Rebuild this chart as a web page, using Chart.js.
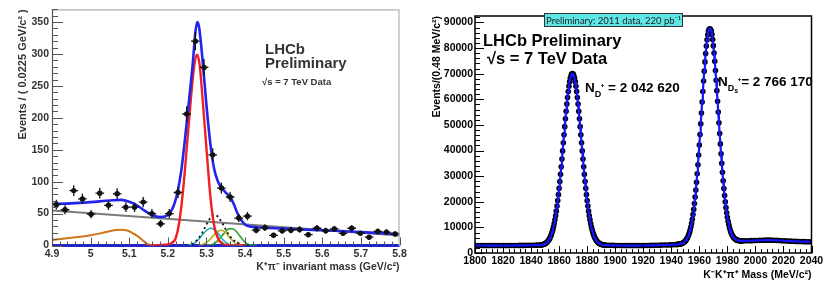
<!DOCTYPE html>
<html>
<head>
<meta charset="utf-8" />
<title>LHCb preliminary mass spectra</title>
<script src="https://cdn.jsdelivr.net/npm/chart.js@4.4.1/dist/chart.umd.min.js"></script>
<style>
    body, html {
        margin: 0;
        padding: 0;
        background: white;
        width: 830px;
        height: 284px;
        overflow: hidden;
    }
    #leftBox { position: absolute; left: 0; top: 0; width: 420px; height: 284px; }
    #rightBox { position: absolute; left: 420px; top: 0; width: 410px; height: 284px; }
</style>
</head>
<body>
<div id="leftBox"><canvas id="leftChart" width="420" height="284"></canvas></div>
<div id="rightBox"><canvas id="rightChart" width="410" height="284"></canvas></div>

<script>
// ---------- left panel: K+pi- invariant mass, bins of 0.0225 GeV ----------
const leftBinLow = 4.9, leftBinWidth = 0.0225;
const leftCounts = [64, 56, 86, 73, 49, 82, 63, 81, 60, 60, 68, 50, 34, 50, 83, 206, 320, 279, 142, 90,
                    76, 43, 46, 24, 28, 16, 23, 24, 25, 17, 27, 23, 26, 19, 27, 19, 13, 22, 21, 18];
const leftErrors = [7.5, 7, 8.5, 8, 6.5, 8.5, 7.5, 8.5, 7.5, 7.5, 8, 7, 5.8, 7, 8.5, 12, 14, 13, 10.5, 8.5,
                    8, 6.3, 6.5, 4.8, 5.2, 4, 4.7, 4.8, 5, 4.1, 5.1, 4.7, 5, 4.3, 5.1, 4.3, 3.6, 4.6, 4.5, 4.2];
const leftXTicks = [4.9, 5.0, 5.1, 5.2, 5.3, 5.4, 5.5, 5.6, 5.7, 5.8];
const leftXLabels = ['4.9', '5', '5.1', '5.2', '5.3', '5.4', '5.5', '5.6', '5.7', '5.8'];
const leftYTicks = [0, 50, 100, 150, 200, 250, 300, 350];

// fit components [mass, events]
const totalFit = [[4.90, 65], [4.95, 66], [5.00, 68], [5.05, 70.5], [5.08, 71.5], [5.10, 68.5], [5.12, 63],
    [5.14, 54.5], [5.16, 47.5], [5.18, 44.5], [5.195, 46], [5.205, 51], [5.215, 62], [5.225, 83], [5.235, 118],
    [5.245, 170], [5.255, 228], [5.265, 288], [5.271, 332], [5.276, 350], [5.281, 342], [5.29, 290], [5.30, 220],
    [5.31, 160], [5.32, 120], [5.33, 100], [5.34, 90], [5.35, 83], [5.36, 77], [5.37, 66], [5.38, 51], [5.39, 40],
    [5.40, 33], [5.41, 30], [5.43, 28.5], [5.45, 27.7], [5.50, 26.6], [5.55, 25], [5.60, 24], [5.65, 22.5],
    [5.70, 21], [5.75, 19.3], [5.80, 17.8]];
const signalFit = [[5.15, 0], [5.20, 1.5], [5.21, 4], [5.22, 11], [5.23, 38], [5.24, 90], [5.25, 160], [5.26, 232],
    [5.268, 280], [5.275, 299], [5.282, 285], [5.29, 230], [5.30, 152], [5.31, 78], [5.32, 31], [5.33, 11],
    [5.34, 3.5], [5.35, 1], [5.40, 0]];
const combBkg = [[4.9, 55], [5.8, 15.5]];
const partReco = [[4.90, 8.5], [4.95, 12], [5.00, 16], [5.04, 21], [5.065, 24.2], [5.08, 24.8], [5.095, 23.5],
    [5.11, 19], [5.12, 15.4], [5.135, 8], [5.15, 1.5], [5.17, 0]];
const peakingSum = [[5.25, 0], [5.26, 1], [5.27, 5], [5.28, 12], [5.29, 21], [5.30, 33], [5.31, 43], [5.32, 48],
    [5.33, 45], [5.34, 36], [5.35, 25], [5.36, 15], [5.37, 8.5], [5.38, 4.5], [5.39, 2], [5.41, 0]];
const peakingA = [[5.25, 0], [5.27, 4], [5.28, 10], [5.29, 17], [5.30, 23.5], [5.31, 27], [5.32, 25], [5.33, 19],
    [5.34, 11], [5.35, 5], [5.36, 1.5], [5.38, 0]];
const peakingB = [[5.28, 0], [5.30, 4.5], [5.31, 10], [5.32, 17], [5.33, 22.5], [5.34, 24], [5.35, 20], [5.36, 13],
    [5.37, 6], [5.38, 2], [5.40, 0]];
const peakingC = [[5.30, 0], [5.32, 3], [5.33, 8], [5.34, 15], [5.35, 22], [5.36, 26.5], [5.37, 26], [5.38, 20],
    [5.39, 12], [5.40, 5], [5.41, 1.5], [5.43, 0]];
const zeroLine = [[4.9, 0], [5.8, 0]];

// ---------- right panel: K-K+pi+ mass ----------
const bgLowCounts = [2950, 2940, 2930, 2920, 2920, 2910, 2900, 2900, 2900, 2900, 2900, 2910, 2920, 2930, 2940,
    2950, 2960, 2970, 2980, 3000, 3020, 3040, 3060];
const dplusCounts = [3080, 3110, 3140, 3180, 3230, 3310, 3400, 3510, 3640, 3820, 4030, 4290, 4590, 4970, 5410,
    5940, 6560, 7290, 8150, 9120, 10240, 11520, 12950, 14550, 16330, 18300, 20440, 22770, 25260, 27920, 30740,
    33670, 36710, 39840, 43010, 46170, 49310, 52380, 55330, 58110, 60690, 63030, 65080, 66800, 68180, 69190,
    69800, 70000, 69800, 69190, 68180, 66800, 65080, 63030, 60690, 58110, 55330, 52380, 49310, 46170, 43010,
    39840, 36710, 33670, 30740, 27920, 25260, 22770, 20440, 18300, 16330, 14550, 12950, 11520, 10240, 9120, 8150,
    7290, 6560, 5940, 5410, 4970, 4590, 4290, 4030, 3820, 3640, 3510, 3400, 3310, 3230, 3180, 3140, 3110, 3080];
const bgMidCounts = [3050, 3010, 2980, 2950, 2930, 2920, 2910, 2900, 2900, 2900, 2900, 2910, 2920, 2930, 2950,
    2970, 2990, 3020, 3050, 3080, 3110, 3150, 3190, 3240, 3300];
const dsCounts = [3340, 3360, 3400, 3440, 3490, 3550, 3630, 3730, 3850, 3980, 4170, 4390, 4670, 5010, 5420,
    5920, 6510, 7230, 8090, 9090, 10270, 11620, 13200, 14980, 17010, 19280, 21820, 24600, 27640, 30940, 34470,
    38210, 42140, 46220, 50410, 54640, 58900, 63060, 67120, 70980, 74590, 77860, 80770, 83210, 85180, 86610,
    87300, 87500, 87330, 86670, 85270, 83330, 80920, 78040, 74800, 71220, 67390, 63360, 59230, 55000, 50800,
    46640, 42590, 38690, 34980, 31480, 28210, 25200, 22450, 19940, 17700, 15700, 13950, 12400, 11080, 9930, 8960,
    8130, 7440, 6880, 6410, 6030, 5720, 5470, 5280, 5120, 5020, 4930, 4860, 4810, 4780, 4760, 4760, 4740, 4750];
const bgHighCounts = [4760, 4790, 4820, 4860, 4900, 4940, 4980, 5010, 5020, 5010, 4980, 4930, 4870, 4800, 4740,
    4680, 4620, 4570, 4530, 4490, 4460, 4430, 4410, 4400];
// [first bin centre, bin step, counts]
const rightSegments = [
    [1800, 2, bgLowCounts],
    [1846, 0.5, dplusCounts],
    [1895, 2, bgMidCounts],
    [1944, 0.5, dsCounts],
    [1993, 2, bgHighCounts]
];
const rightXTicks = [1800, 1820, 1840, 1860, 1880, 1900, 1920, 1940, 1960, 1980, 2000, 2020, 2040];
const rightYTicks = [0, 10000, 20000, 30000, 40000, 50000, 60000, 70000, 80000, 90000];

// ---------- helpers ----------
const FONT = '"Liberation Sans", Arial, Helvetica, sans-serif';
Chart.defaults.font.family = FONT;

const xy = arr => arr.map(p => ({ x: p[0], y: p[1] }));

function curve(data, color, width, extra) {
    return Object.assign({
        data: xy(data), showLine: true, pointRadius: 0, borderColor: color,
        backgroundColor: color, borderWidth: width, cubicInterpolationMode: 'monotone', fill: false
    }, extra || {});
}

// ROOT style ticks pointing into the frame
function innerTicks(chart, t) {
    const ctx = chart.ctx, a = chart.chartArea;
    const xs = chart.scales.x, ys = chart.scales.y;
    ctx.save();
    ctx.strokeStyle = t.color;
    ctx.lineWidth = 1;
    ctx.beginPath();
    const nx = Math.round((xs.max - xs.min) / t.xMinor);
    for (let i = 0; i <= nx; i++) {
        const v = xs.min + i * t.xMinor;
        const major = Math.abs(v / t.xMajor - Math.round(v / t.xMajor)) < 1e-6;
        const px = Math.round(xs.getPixelForValue(v)) + 0.5;
        ctx.moveTo(px, a.bottom);
        ctx.lineTo(px, a.bottom - (major ? t.xMajLen : t.xMinLen));
    }
    const ny = Math.floor((ys.max - ys.min) / t.yMinor + 1e-6);
    for (let i = 0; i <= ny; i++) {
        const v = ys.min + i * t.yMinor;
        const major = Math.abs(v / t.yMajor - Math.round(v / t.yMajor)) < 1e-6;
        const py = Math.round(ys.getPixelForValue(v)) + 0.5;
        ctx.moveTo(a.left, py);
        ctx.lineTo(a.left + (major ? t.yMajLen : t.yMinLen), py);
    }
    ctx.stroke();
    ctx.restore();
}

function richText(ctx, x, y, parts) {
    for (const [txt, size, dy] of parts) {
        ctx.font = 'bold ' + size + 'px ' + FONT;
        ctx.fillText(txt, x, y + dy);
        x += ctx.measureText(txt).width;
    }
}

// ---------- left chart ----------
const leftPoints = leftCounts.map((c, i) => ({ x: leftBinLow + leftBinWidth * (i + 0.5), y: c }));

const leftPlugin = {
    id: 'leftDecor',
    beforeDatasetDraw(chart, args) {
        if (args.index !== 0) return;
        const ctx = chart.ctx, xs = chart.scales.x, ys = chart.scales.y;
        ctx.save();
        ctx.strokeStyle = '#111';
        ctx.lineWidth = 1.3;
        ctx.beginPath();
        leftPoints.forEach((p, i) => {
            const px = xs.getPixelForValue(p.x), py = ys.getPixelForValue(p.y);
            ctx.moveTo(xs.getPixelForValue(p.x - leftBinWidth / 2), py);
            ctx.lineTo(xs.getPixelForValue(p.x + leftBinWidth / 2), py);
            ctx.moveTo(px, ys.getPixelForValue(p.y - leftErrors[i]));
            ctx.lineTo(px, ys.getPixelForValue(p.y + leftErrors[i]));
        });
        ctx.stroke();
        ctx.restore();
    },
    afterDatasetsDraw(chart) {
        const ctx = chart.ctx, a = chart.chartArea;
        ctx.save();
        ctx.strokeStyle = '#b0b0b0';
        ctx.lineWidth = 1.2;
        ctx.beginPath();
        ctx.moveTo(a.left, a.top + 0.5);
        ctx.lineTo(a.right - 0.5, a.top + 0.5);
        ctx.lineTo(a.right - 0.5, a.bottom);
        ctx.stroke();
        ctx.strokeStyle = '#555';
        ctx.beginPath();
        ctx.moveTo(a.left + 0.5, a.top);
        ctx.lineTo(a.left + 0.5, a.bottom);
        ctx.stroke();
        ctx.restore();
        innerTicks(chart, { color: '#555', xMajor: 0.1, xMinor: 0.02, yMajor: 50, yMinor: 10,
            xMajLen: 8, xMinLen: 4, yMajLen: 11, yMinLen: 6 });
    },
    afterDraw(chart) {
        const ctx = chart.ctx;
        ctx.save();
        ctx.fillStyle = '#333';
        ctx.textBaseline = 'alphabetic';
        ctx.font = 'bold 15px ' + FONT;
        ctx.fillText('LHCb', 265, 54);
        ctx.fillText('Preliminary', 265, 68);
        ctx.font = 'bold 9.5px ' + FONT;
        ctx.fillText('\u221As = 7 TeV Data', 262, 85);
        ctx.restore();
    }
};

new Chart(document.getElementById('leftChart'), {
    type: 'scatter',
    data: {
        datasets: [
            { data: leftPoints, pointRadius: 2.7, pointBackgroundColor: '#111', pointBorderWidth: 0, showLine: false },
            curve(totalFit, '#2323ee', 2.6),
            curve(signalFit, '#f02020', 2.4),
            curve(peakingSum, '#111', 1.8, { borderDash: [2, 3] }),
            curve(peakingA, '#26b0b0', 1.6),
            curve(peakingB, '#b4b020', 1.6),
            curve(peakingC, '#30a030', 1.6),
            curve(partReco, '#d0741a', 2),
            curve(combBkg, '#7a7a7a', 2),
            curve(zeroLine, '#2323cc', 3, { clip: 4 })
        ]
    },
    options: {
        responsive: false,
        animation: false,
        events: [],
        layout: { padding: { left: 0, top: 9, right: 20.5, bottom: 0 } },
        plugins: { legend: { display: false }, tooltip: { enabled: false } },
        scales: {
            x: {
                type: 'linear', min: 4.9, max: 5.8,
                afterBuildTicks: s => { s.ticks = leftXTicks.map(v => ({ value: v })); },
                afterFit: s => { s.height = 38.5; },
                grid: { display: false, drawTicks: false },
                border: { display: false },
                ticks: {
                    autoSkip: false, maxRotation: 0, padding: 2, color: '#333',
                    font: { size: 10.5, weight: 'bold' },
                    callback: (v, i) => leftXLabels[i]
                },
                title: {
                    display: true, align: 'end', text: 'K\u207A\u03C0\u207B invariant mass (GeV/c\u00B2)',
                    color: '#333', font: { size: 10.5, weight: 'bold' }, padding: { top: 0, bottom: 11 }
                }
            },
            y: {
                type: 'linear', min: 0, max: 370,
                afterBuildTicks: s => { s.ticks = leftYTicks.map(v => ({ value: v })); },
                afterFit: s => { s.width = 52; },
                grid: { display: false, drawTicks: false },
                border: { display: false },
                ticks: { padding: 3, color: '#333', font: { size: 10.5, weight: 'bold' } },
                title: {
                    display: true, align: 'end', text: 'Events / ( 0.0225 GeV/c\u00B2 )',
                    color: '#333', font: { size: 11, weight: 'bold' }, padding: { top: 16, bottom: 0 }
                }
            }
        }
    },
    plugins: [leftPlugin]
});

// ---------- right chart ----------
const rightPoints = [];
rightSegments.forEach(([start, step, counts]) => {
    counts.forEach((c, i) => rightPoints.push({ x: start + step * i, y: c }));
});

const rightPlugin = {
    id: 'rightDecor',
    afterDatasetsDraw(chart) {
        const ctx = chart.ctx, a = chart.chartArea;
        ctx.save();
        ctx.strokeStyle = '#000';
        ctx.lineWidth = 1.5;
        ctx.strokeRect(a.left, a.top, a.right - a.left, a.bottom - a.top);
        ctx.restore();
        innerTicks(chart, { color: '#000', xMajor: 20, xMinor: 4, yMajor: 10000, yMinor: 2000,
            xMajLen: 7, xMinLen: 4, yMajLen: 9, yMinLen: 5 });
    },
    afterDraw(chart) {
        const ctx = chart.ctx;
        ctx.save();
        ctx.fillStyle = '#000';
        ctx.textBaseline = 'alphabetic';
        ctx.font = 'bold 16.5px ' + FONT;
        ctx.fillText('LHCb Preliminary', 63, 46);
        ctx.fillText('\u221As = 7 TeV Data', 67, 64);
        richText(ctx, 165, 92, [['N', 13.5, 0], ['D', 9, 5], ['\u207A', 9, -1], [' = 2 042 620', 13.5, 0]]);
        richText(ctx, 298, 86, [['N', 13.5, 0], ['D', 9, 5], ['s', 7, 7], ['\u207A', 9, -1], ['= 2 766 170', 13.5, 0]]);
        // cyan label box
        ctx.fillStyle = '#5fe6e6';
        ctx.fillRect(124, 13, 139, 14);
        ctx.strokeStyle = '#333';
        ctx.lineWidth = 1;
        ctx.strokeRect(124.5, 13.5, 138, 13);
        ctx.fillStyle = '#222';
        ctx.font = '9.5px Lato, ' + FONT;
        ctx.textAlign = 'center';
        ctx.textBaseline = 'middle';
        ctx.fillText('Preliminary: 2011 data, 220 pb\u207B\u00B9', 193.5, 20.5);
        ctx.restore();
    }
};

new Chart(document.getElementById('rightChart'), {
    type: 'scatter',
    data: {
        datasets: [
            { data: rightPoints, showLine: true, pointRadius: 0, borderColor: '#1414ff', borderWidth: 2.2, fill: false },
            { data: rightPoints, showLine: false, pointRadius: 2.8, pointBackgroundColor: '#000', pointBorderWidth: 0 }
        ]
    },
    options: {
        responsive: false,
        animation: false,
        events: [],
        layout: { padding: { left: 0, top: 16, right: 18.5, bottom: 0 } },
        plugins: { legend: { display: false }, tooltip: { enabled: false } },
        scales: {
            x: {
                type: 'linear', min: 1800, max: 2040,
                afterBuildTicks: s => { s.ticks = rightXTicks.map(v => ({ value: v })); },
                afterFit: s => { s.height = 31; },
                grid: { display: false, drawTicks: false },
                border: { display: false },
                ticks: {
                    autoSkip: false, maxRotation: 0, padding: 2, color: '#000',
                    font: { size: 10.5, weight: 'bold' }, callback: v => String(v)
                },
                title: {
                    display: true, align: 'end', text: 'K\u207BK\u207A\u03C0\u207A Mass (MeV/c\u00B2)',
                    color: '#000', font: { size: 10.5, weight: 'bold' }, padding: { top: 0, bottom: 2.5 }
                }
            },
            y: {
                type: 'linear', min: 0, max: 92500,
                afterBuildTicks: s => { s.ticks = rightYTicks.map(v => ({ value: v })); },
                afterFit: s => { s.width = 55; },
                grid: { display: false, drawTicks: false },
                border: { display: false },
                ticks: { padding: 2, color: '#000', font: { size: 10.5, weight: 'bold' }, callback: v => String(v) },
                title: {
                    display: true, align: 'end', text: 'Events/(0.48 MeV/c\u00B2)',
                    color: '#000', font: { size: 10.5, weight: 'bold' }, padding: { top: 10.5, bottom: 0 }
                }
            }
        }
    },
    plugins: [rightPlugin]
});
</script>
</body>
</html>
